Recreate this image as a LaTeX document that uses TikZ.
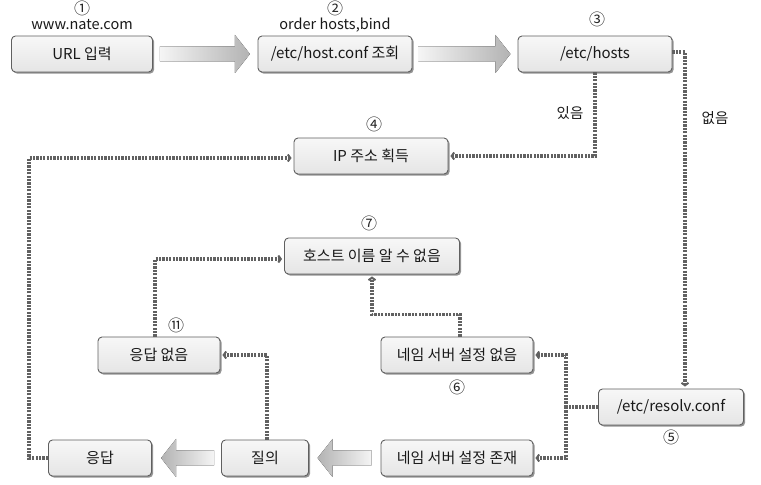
\documentclass[tikz,border=0pt]{standalone}
\usepackage{fontspec}
\setmainfont{Noto Sans CJK KR}
\usetikzlibrary{shadows,arrows.meta}

\begin{document}
\begin{tikzpicture}[x=1pt, y=1pt,
  box/.style={draw=gray!75!black, line width=0.9pt, rounded corners=4pt,
    top color=gray!6, bottom color=gray!20, minimum height=36pt,
    text=black!90, font=\fontsize{15}{17}\selectfont,
    drop shadow={shadow xshift=1.6pt, shadow yshift=-1.6pt, fill=black!70, opacity=0.6}},
  lbl/.style={text=black!90, inner sep=1pt, font=\fontsize{14.5}{17}\selectfont},
  num/.style={text=black!85, inner sep=0pt, font=\fontsize{16}{18}\selectfont},
  dotline/.style={draw=black!62, line width=3.2pt, dash pattern=on 2.2pt off 1.2pt},
  dotarrow/.style={dotline, shorten >=2pt, -{Straight Barb[length=2.5pt, width=7pt, line width=2pt]}},
  fatright/.style={left color=gray!8, right color=gray!60},
  fatleft/.style={left color=gray!60, right color=gray!8}]
\useasboundingbox (0,0) rectangle (761,485);

% boxes
\node[box, minimum width=141pt] (url) at (82,431) {URL 입력};
\node[box, minimum width=154pt] (hostconf) at (335,431) {/etc/host.conf 조회};
\node[box, minimum width=154pt] (hosts) at (595,431) {/etc/hosts};
\node[box, minimum width=154pt] (ipaddr) at (371,329) {IP 주소 획득};
\node[box, minimum width=175pt] (unknown) at (372,229) {호스트 이름 알 수 없음};
\node[box, minimum width=122pt] (noresp) at (159,130) {응답 없음};
\node[box, minimum width=152pt] (nsnone) at (457,130) {네임 서버 설정 없음};
\node[box, minimum width=145pt] (resolv) at (671,78) {/etc/resolv.conf};
\node[box, minimum width=103pt] (resp) at (100,27) {응답};
\node[box, minimum width=87pt] (query) at (265,27) {질의};
\node[box, minimum width=152pt] (nsset) at (457,27) {네임 서버 설정 존재};

% labels
\node[num] (n1) at (82,477) {①};
\node[lbl] (site) at (82,460) {www.nate.com};
\node[num] (n2) at (335,477) {②};
\node[lbl] (order) at (335,460) {order hosts,bind};
\node[num] (n3) at (597,466) {③};
\node[num] (n4) at (374,361) {④};
\node[num] (n7) at (369,262) {⑦};
\node[num] (n11) at (176,160) {⑪};
\node[num] (n6) at (457,98) {⑥};
\node[num] (n5) at (671,48) {⑤};
\node[lbl] (yes) at (570,372) {있음};
\node[lbl] (no) at (715,367) {없음};

% fat arrows
\fill[fatright] ([shift={(7,-7.5)}]url.east) -- ++(75,0) -- ++(0,-11.5) -- ++(15,19)
  -- ++(-15,19) -- ++(0,-11.5) -- ++(-75,0) -- cycle;
\fill[fatright] ([shift={(6,-7.5)}]hostconf.east) -- ++(77,0) -- ++(0,-11.5) -- ++(15,19)
  -- ++(-15,19) -- ++(0,-11.5) -- ++(-77,0) -- cycle;
\fill[fatleft] ([shift={(-9,-7.5)}]nsset.west) -- ++(-39,0) -- ++(0,-11.5) -- ++(-15,19)
  -- ++(15,19) -- ++(0,-11.5) -- ++(39,0) -- cycle;
\fill[fatleft] ([shift={(-7,-7.5)}]query.west) -- ++(-38,0) -- ++(0,-11.5) -- ++(-15,19)
  -- ++(15,19) -- ++(0,-11.5) -- ++(38,0) -- cycle;

% dotted connectors
\coordinate (split) at ([xshift=-32pt]resolv.west);
\draw[dotarrow] (hosts.south) |- (ipaddr.east);
\draw[dotarrow] ([yshift=2pt]hosts.east) -| ([xshift=14pt]resolv.north);
\draw[dotline] (resolv.west) -- (split);
\draw[dotarrow] (split) |- (nsnone.east);
\draw[dotarrow] (split) |- (nsset.east);
\draw[dotarrow] ([xshift=3pt]nsnone.north) -- ++(0,22) -| (unknown.south);
\draw[dotarrow] ([xshift=2pt]query.north) |- (noresp.east);
\draw[dotarrow] ([xshift=-4pt]noresp.north) |- ([yshift=-3pt]unknown.west);
\draw[dotarrow] (resp.west) -- ++(-19,0) |- ([yshift=-2pt]ipaddr.west);
\end{tikzpicture}
\end{document}
